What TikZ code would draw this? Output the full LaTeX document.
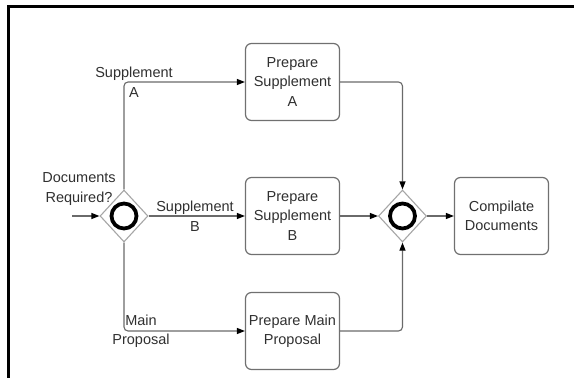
\documentclass[tikz,border=0pt]{standalone}
\usepackage{fontspec}
\setmainfont{Liberation Sans}
\usetikzlibrary{arrows.meta,shapes.geometric}
\definecolor{linegray}{HTML}{6A6A6A}
\definecolor{boxgray}{HTML}{707070}
\definecolor{txtgray}{HTML}{303030}
\begin{document}
\begin{tikzpicture}[x=1pt,y=-1pt,
  every node/.style={font=\fontsize{14.5}{19.5}\selectfont, text=txtgray},
  task/.style={draw=boxgray, line width=1.2pt, rounded corners=6pt,
    minimum width=94pt, minimum height=77pt, align=center, inner sep=1pt, fill=white},
  gate/.style={draw=gray!70, line width=1.1pt, diamond, minimum width=48pt,
    minimum height=52pt, inner sep=0pt, fill=white},
  ring/.style={draw=black, line width=3.8pt, circle, minimum size=25pt, inner sep=0pt},
  flow/.style={draw=linegray, line width=1.1pt, rounded corners=4pt,
    -{Triangle[length=8pt,width=6pt,fill=black,color=black]}},
  lbl/.style={align=center, inner sep=0pt}]
\useasboundingbox (0,0) rectangle (574,378);
\fill[white] (0,0) rectangle (574,378);
% page frame
\draw[line width=2.2pt, black] (8.5,378) -- (8.5,6.5) -- (574,6.5);

% gateways
\node[gate] (g1) at (124,216) {};
\node[ring] at (g1.center) {};
\node[gate] (g2) at (402.5,216) {};
\node[ring] at (g2.center) {};

% tasks
\node[task] (ta) at (292.5,82) {Prepare\\Supplement\\A};
\node[task] (tb) at (292.5,216) {Prepare\\Supplement\\B};
\node[task] (tm) at (292.5,331) {Prepare Main\\Proposal};
\node[task] (tc) at (501.5,216) {Compilate\\Documents};

% incoming flow
\coordinate (in) at (72,216);
\draw[flow] (in) -- (g1.west);

% split
\draw[flow] (g1.north) |- (ta.west);
\draw[flow] (g1.east) -- (tb.west);
\draw[flow] (g1.south) |- (tm.west);

% merge
\draw[flow] (ta.east) -| (g2.north);
\draw[flow] (tb.east) -- (g2.west);
\draw[flow] (tm.east) -| (g2.south);
\draw[flow] (g2.east) -- (tc.west);

% labels
\node[lbl] (lq) at (79,189) {Documents\\Required?};
\node[lbl] (la) at (134,82) {Supplement\\A};
\node[lbl] (lb) at (195,216) {Supplement\\B};
\node[lbl] (lm) at (141,331) {Main\\Proposal};
\end{tikzpicture}
\end{document}
